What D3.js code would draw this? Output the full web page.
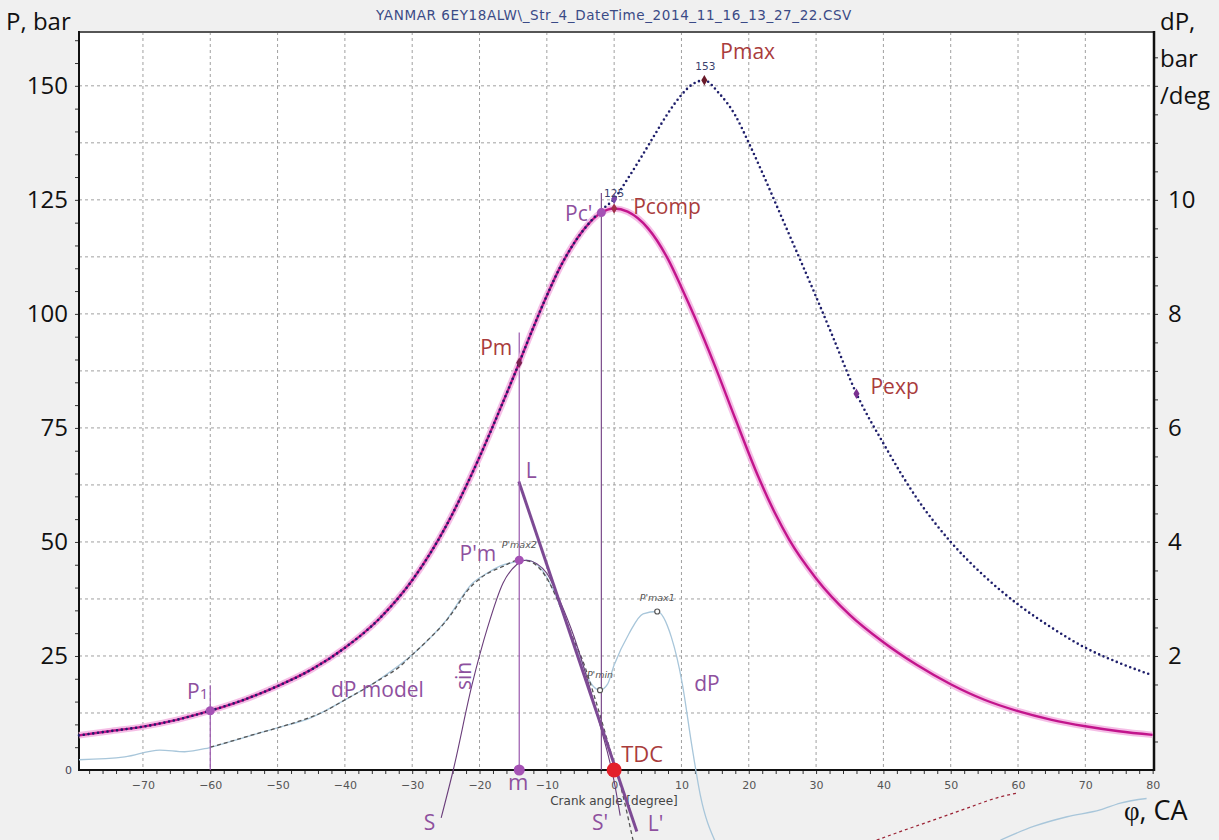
<!DOCTYPE html>
<html>
<head>
<meta charset="utf-8">
<script src="https://cdn.jsdelivr.net/npm/d3@7"></script>
<style>
  body { margin: 0; background: #f0f0f0; }
  svg { display: block; }
  .big { font-family: "Open Sans", sans-serif; }
  .small { font-family: "DejaVu Sans", Verdana, sans-serif; }
</style>
</head>
<body>
<svg id="chart" width="1219" height="840"></svg>
<script>
// ---- data (crank angle in degrees) ----
const chartTitle = 'YANMAR 6EY18ALW\\_Str_4_DateTime_2014_11_16_13_27_22.CSV';

const xTickLabels = [-70, -60, -50, -40, -30, -20, -10, 0, 10, 20, 30, 40, 50, 60, 70, 80];
const pTickLabels = [25, 50, 75, 100, 125, 150];
const dpTickLabels = [2, 4, 6, 8, 10];
const xGrid = [-70, -60, -50, -40, -30, -20, -10, 0, 10, 20, 30, 40, 50, 60, 70];
const dpGrid = [1, 2, 3, 4, 5, 6, 7, 8, 9, 10, 11, 12];

// compression (motored) pressure, bar
const pCompression = [
  [-79.5, 7.6], [-75, 8.5], [-70, 9.5], [-65, 11.0], [-60, 13.0], [-55, 15.4], [-50, 18.4],
  [-45, 22.0], [-40, 26.8], [-35, 33.0], [-30, 41.6], [-25, 53.4], [-22, 62.2], [-20, 68.6],
  [-16.5, 80.7], [-14.1, 89.3], [-13, 93.4], [-10, 104], [-8, 110.3], [-6, 115.4], [-4, 119.4],
  [-2, 122.1], [0, 123.1], [2, 122.4], [5, 118.8], [8, 112], [10, 105.8], [12, 99.2],
  [15, 88.5], [18, 77], [21.5, 64], [24, 56], [26, 50.5], [30, 42], [35, 34], [40, 28],
  [45, 23], [50, 18.8], [55, 15.4], [60, 12.9], [65, 11], [70, 9.6], [75, 8.5], [80, 7.7]
];

// measured (firing) pressure, bar
const pMeasured = [
  [-79.5, 7.6], [-75, 8.5], [-70, 9.5], [-65, 11.0], [-60, 13.0], [-55, 15.4], [-50, 18.4],
  [-45, 22.0], [-40, 26.8], [-35, 33.0], [-30, 41.6], [-25, 53.4], [-22, 62.2], [-20, 68.6],
  [-16.5, 80.7], [-14.1, 89.3], [-13, 93.4], [-10, 104], [-8, 110.3], [-6, 115.4], [-4, 119.4],
  [-2, 122.6], [0, 125.2], [2, 129.6], [4, 134.3], [6, 139.2], [8, 144], [10, 148],
  [11.5, 150.2], [13.4, 151.2], [15.5, 148.5], [18, 143.5], [20, 137.5], [22, 131],
  [24.5, 122.5], [27.3, 113], [29.7, 104.8], [32.4, 95.3], [36, 82.5], [40, 71.6], [45, 59.5],
  [50, 50], [55, 42.5], [60, 36.3], [65, 31.2], [70, 26.8], [75, 23.5], [79.9, 20.8]
];

// measured pressure derivative, bar/deg
const dpMeasured = [
  [-79.5, 0.18], [-72.7, 0.23], [-67.5, 0.35], [-63.8, 0.32], [-60.2, 0.39], [-55, 0.57],
  [-50, 0.74], [-45, 0.92], [-40, 1.23], [-35, 1.58], [-30, 2.02], [-25, 2.62], [-21, 3.28],
  [-18.9, 3.45], [-16.9, 3.58], [-14.7, 3.65], [-13, 3.68], [-11, 3.55], [-9, 3.15], [-7, 2.55],
  [-5, 1.95], [-3.6, 1.55], [-2.1, 1.40], [-1, 1.5], [0, 1.84], [2.2, 2.39], [4.3, 2.74],
  [6.4, 2.78], [8.5, 2.33], [10.1, 1.53], [11.5, 0.46], [12.8, -0.44], [15, -1.25],
  [null, null],
  [57.4, -1.23], [62.3, -0.99], [67.3, -0.82], [72.2, -0.70], [75.2, -0.58], [79.1, -0.50]
];

// model derivative, bar/deg
const dpModel = [
  [-60, 0.40], [-57, 0.50], [-53.9, 0.61], [-50, 0.74], [-46.2, 0.88], [-43, 1.03], [-40, 1.23],
  [-37, 1.43], [-34.9, 1.58], [-32, 1.80], [-30, 2.02], [-27.5, 2.30], [-25.2, 2.58],
  [-23.5, 2.85], [-22.1, 3.10], [-19.8, 3.37], [-16.5, 3.57], [-14.2, 3.68], [-12.9, 3.67],
  [-10.3, 3.42], [-8, 2.87], [-6, 2.28], [-4.8, 1.96], [-2.7, 1.20], [-0.6, 0.35], [1, -0.30],
  [2.8, -1.23]
];

// sine fit, bar/deg
const dpSine = [
  [-25.7, -0.84], [-23.9, 0], [-21.1, 1.5], [-18.8, 2.5], [-16.5, 3.28], [-14.5, 3.6],
  [-13, 3.68], [-11.5, 3.62], [-10, 3.45], [-8, 2.95], [-6, 2.35], [-4, 1.6], [-2, 0.75],
  [0, -0.2], [0.9, -0.8]
];

// tangent L - L', bar/deg
const dpTangent = [[-14.16, 5.06], [3.37, -1.08]];

// dashed tail after combustion, bar/deg
const dpTail = [[39, -1.23], [42.5, -1.08], [47.4, -0.88], [52.4, -0.67], [57.4, -0.47], [60.1, -0.40]];

// vertical markers [deg, top value (bar)]
const verticals = [
  { deg: -60, top: 18.6 },
  { deg: -14.1, top: 95.9 },
  { deg: -1.9, top: 126.5 }
];

// points
const points = [
  { id: 'P1', deg: -60, v: 13.0, axis: 'P', kind: 'dot' },
  { id: 'Pm', deg: -14.1, v: 89.3, axis: 'P', kind: 'diamond', color: '#7a2050' },
  { id: 'Pc', deg: -1.9, v: 122.2, axis: 'P', kind: 'dot' },
  { id: 'Pcomp', deg: 0, v: 123.1, axis: 'P', kind: 'diamond', color: '#a0304a' },
  { id: 'P125', deg: 0, v: 125.2, axis: 'P', kind: 'diamond', color: '#7a48a8' },
  { id: 'Pmax', deg: 13.4, v: 151.2, axis: 'P', kind: 'diamond', color: '#6a1a2a' },
  { id: 'Pexp', deg: 36, v: 82.5, axis: 'P', kind: 'diamond', color: '#7a3090' },
  { id: 'Pdm', deg: -14.1, v: 3.68, axis: 'dP', kind: 'dot' },
  { id: 'Pmax1', deg: 6.4, v: 2.78, axis: 'dP', kind: 'open' },
  { id: 'Pmin', deg: -2.1, v: 1.40, axis: 'dP', kind: 'open' },
  { id: 'm', deg: -14.1, v: 0, axis: 'dP', kind: 'big' },
  { id: 'TDC', deg: 0, v: 0, axis: 'dP', kind: 'tdc' }
];

// ---- layout ----
const W = 1219, H = 840;
const plotL = 79, plotR = 1154, plotT = 32, plotB = 770;
const red = '#a93c3c', purple = '#8e509e';

const svg = d3.select('#chart');

const x = d3.scaleLinear().domain([-79.5, 80.2]).range([plotL, plotR]);
const yP = d3.scaleLinear().domain([0, 161.8]).range([plotB, plotT]);
const yD = d3.scaleLinear().domain([0, 161.8 / 12.5]).range([plotB, plotT]);

svg.append('rect').attr('width', W).attr('height', H).attr('fill', '#f0f0f0');
svg.append('rect')
  .attr('x', plotL).attr('y', plotT)
  .attr('width', plotR - plotL).attr('height', plotB - plotT)
  .attr('fill', '#fff');

// grid
const grid = svg.append('g').attr('stroke', '#a0a0a0').attr('stroke-width', 1).attr('stroke-dasharray', '3,3');
grid.selectAll('.gx').data(xGrid).join('line')
  .attr('x1', d => x(d)).attr('x2', d => x(d)).attr('y1', plotT).attr('y2', plotB);
grid.selectAll('.gy').data(dpGrid).join('line')
  .attr('x1', plotL).attr('x2', plotR).attr('y1', d => yD(d)).attr('y2', d => yD(d));

// title
svg.append('text').attr('class', 'small')
  .attr('x', 614).attr('y', 20).attr('text-anchor', 'middle')
  .attr('font-size', 13.5).attr('letter-spacing', 0.6).attr('fill', '#3a4a86')
  .text(chartTitle);

// axes
const axX = svg.append('g').attr('transform', `translate(0,${plotB})`)
  .call(d3.axisBottom(x).tickValues(xTickLabels).tickSize(0).tickPadding(11));
const axXMinor = svg.append('g').attr('transform', `translate(0,${plotB})`)
  .call(d3.axisBottom(x).tickValues(d3.range(-78, 81, 2)).tickSize(4).tickFormat(''));
const axL = svg.append('g').attr('transform', `translate(${plotL},0)`)
  .call(d3.axisLeft(yP).tickValues(pTickLabels).tickSize(0).tickPadding(11));
const axLMinor = svg.append('g').attr('transform', `translate(${plotL},0)`)
  .call(d3.axisLeft(yP).tickValues(d3.range(5, 161, 5)).tickSize(4).tickFormat(''));
const axR = svg.append('g').attr('transform', `translate(${plotR},0)`)
  .call(d3.axisRight(yD).tickValues(dpTickLabels).tickSize(0).tickPadding(14));
const axRMinor = svg.append('g').attr('transform', `translate(${plotR},0)`)
  .call(d3.axisRight(yD).tickValues(d3.range(0.5, 12.9, 0.5)).tickSize(4).tickFormat(''));

[axX, axXMinor, axL, axLMinor, axR, axRMinor].forEach(g => g.select('.domain').remove());
[axXMinor, axLMinor, axRMinor].forEach(g => g.selectAll('line').attr('stroke', '#333'));
axX.selectAll('text').attr('class', 'small').attr('font-size', 11).attr('fill', '#555');
axL.selectAll('text').attr('class', 'big').attr('font-size', 24).attr('fill', '#111');
axR.selectAll('text').attr('class', 'big').attr('font-size', 24).attr('fill', '#111');

// frame
svg.append('line').attr('x1', plotL).attr('x2', plotR).attr('y1', plotT).attr('y2', plotT)
  .attr('stroke', '#555').attr('stroke-width', 2);
svg.append('line').attr('x1', plotL).attr('x2', plotL).attr('y1', plotT - 1).attr('y2', plotB + 1)
  .attr('stroke', '#111').attr('stroke-width', 2);
svg.append('line').attr('x1', plotR).attr('x2', plotR).attr('y1', plotT - 1).attr('y2', plotB + 1)
  .attr('stroke', '#111').attr('stroke-width', 2.5);
svg.append('line').attr('x1', plotL).attr('x2', plotR).attr('y1', plotB).attr('y2', plotB)
  .attr('stroke', '#111').attr('stroke-width', 2);

svg.append('text').attr('class', 'small').attr('x', 72).attr('y', plotB + 4)
  .attr('text-anchor', 'end').attr('font-size', 11).attr('fill', '#445').text('0');

svg.append('text').attr('class', 'small').attr('x', 614).attr('y', 805)
  .attr('text-anchor', 'middle').attr('font-size', 12).attr('fill', '#444')
  .text('Crank angle [degree]');

// axis titles
svg.append('text').attr('class', 'big').attr('x', 6).attr('y', 30)
  .attr('font-size', 24).attr('fill', '#111').text('P, bar');
const rt = svg.append('text').attr('class', 'big').attr('font-size', 24).attr('fill', '#111');
['dP,', 'bar', '/deg'].forEach((s, i) => rt.append('tspan').attr('x', 1160).attr('y', 30 + i * 37).text(s));
const phi = svg.append('text').attr('x', 1124).attr('y', 820).attr('font-size', 27).attr('fill', '#111');
phi.append('tspan').attr('font-family', '"Liberation Serif", serif').text('φ');
phi.append('tspan').attr('class', 'big').text(', CA');

// lines
const lineD = d3.line().defined(d => d[0] !== null).x(d => x(d[0])).y(d => yD(d[1])).curve(d3.curveMonotoneX);
const lineP = d3.line().x(d => x(d[0])).y(d => yP(d[1])).curve(d3.curveMonotoneX);

svg.append('path').datum(dpMeasured).attr('d', lineD)
  .attr('fill', 'none').attr('stroke', '#a8c6da').attr('stroke-width', 1.3);
svg.append('path').datum(dpTail).attr('d', lineD)
  .attr('fill', 'none').attr('stroke', '#9b2335').attr('stroke-width', 1.2).attr('stroke-dasharray', '3,3');
svg.append('path').datum(dpModel).attr('d', lineD)
  .attr('fill', 'none').attr('stroke', '#555').attr('stroke-width', 1.3).attr('stroke-dasharray', '4,3');
svg.append('path').datum(dpSine).attr('d', lineD)
  .attr('fill', 'none').attr('stroke', '#6a3d7a').attr('stroke-width', 1.1);
svg.append('path').datum(dpTangent).attr('d', d3.line().x(d => x(d[0])).y(d => yD(d[1])))
  .attr('fill', 'none').attr('stroke', '#7d4a94').attr('stroke-width', 3);

svg.selectAll('.vline').data(verticals).join('line')
  .attr('x1', d => x(d.deg)).attr('x2', d => x(d.deg))
  .attr('y1', d => yP(d.top)).attr('y2', plotB)
  .attr('stroke', (d, i) => i === 2 ? '#7a4a8a' : '#9a58ad').attr('stroke-width', 1.2);

svg.append('path').datum(pCompression).attr('d', lineP)
  .attr('fill', 'none').attr('stroke', '#f2aee0').attr('stroke-width', 6.5).attr('opacity', 0.8);
svg.append('path').datum(pCompression).attr('d', lineP)
  .attr('fill', 'none').attr('stroke', '#c2158c').attr('stroke-width', 2.4);
svg.append('path').datum(pMeasured).attr('d', lineP)
  .attr('fill', 'none').attr('stroke', '#1f1f6b').attr('stroke-width', 2.6)
  .attr('stroke-linecap', 'round').attr('stroke-dasharray', '0,4.8');

// points
const px = d => x(d.deg);
const py = d => d.axis === 'P' ? yP(d.v) : yD(d.v);
points.forEach(d => {
  if (d.kind === 'diamond') {
    svg.append('path').attr('d', d3.symbol(d3.symbolDiamond, 32)())
      .attr('transform', `translate(${px(d)},${py(d)})`).attr('fill', d.color);
  } else if (d.kind === 'open') {
    svg.append('circle').attr('cx', px(d)).attr('cy', py(d)).attr('r', 2.5)
      .attr('fill', '#fff').attr('stroke', '#555').attr('stroke-width', 1.2);
  } else {
    const r = d.kind === 'tdc' ? 7.5 : d.kind === 'big' ? 5.5 : 4.5;
    const c = d.kind === 'tdc' ? '#e3202b' : '#a552b5';
    svg.append('circle').attr('cx', px(d)).attr('cy', py(d)).attr('r', r).attr('fill', c);
  }
});

// annotations: anchored to a point, offsets in px
const byId = Object.fromEntries(points.map(d => [d.id, d]));
const anchorSine0 = { deg: dpSine[0][0], v: dpSine[0][1], axis: 'dP' };
const anchorSine1 = { deg: dpSine[dpSine.length - 1][0], v: dpSine[dpSine.length - 1][1], axis: 'dP' };
const anchorL = { deg: dpTangent[0][0], v: dpTangent[0][1], axis: 'dP' };
const anchorL2 = { deg: dpTangent[1][0], v: dpTangent[1][1], axis: 'dP' };
const anchorModel = { deg: -40, v: 1.23, axis: 'dP' };
const anchorDp = { deg: 10.1, v: 1.53, axis: 'dP' };

const notes = [
  { t: 'Pmax', a: byId.Pmax, dx: 16, dy: -21, c: red, s: 21 },
  { t: 'Pcomp', a: byId.Pcomp, dx: 19, dy: 5, c: red, s: 21 },
  { t: "Pc'", a: byId.Pc, dx: -9, dy: 8, c: purple, s: 21, anchor: 'end' },
  { t: 'Pm', a: byId.Pm, dx: -7, dy: -8, c: red, s: 21, anchor: 'end' },
  { t: 'Pexp', a: byId.Pexp, dx: 14, dy: 0, c: red, s: 21 },
  { t: 'L', a: anchorL, dx: 7, dy: -4, c: purple, s: 21 },
  { t: "P'm", a: byId.Pdm, dx: -23, dy: 1, c: purple, s: 21, anchor: 'end' },
  { t: 'dP model', a: anchorModel, dx: -14, dy: -3, c: purple, s: 21 },
  { t: 'dP', a: anchorDp, dx: 12, dy: 8, c: purple, s: 21 },
  { t: 'TDC', a: byId.TDC, dx: 7, dy: -8, c: red, s: 22 },
  { t: 'm', a: byId.m, dx: -1, dy: 20, c: purple, s: 22, anchor: 'middle' },
  { t: 'S', a: anchorSine0, dx: -6, dy: 12, c: purple, s: 21, anchor: 'end' },
  { t: "S'", a: anchorSine1, dx: -12, dy: 14, c: purple, s: 21, anchor: 'end' },
  { t: "L'", a: anchorL2, dx: 11, dy: -1, c: purple, s: 21 }
];
notes.forEach(n => {
  svg.append('text').attr('class', 'big')
    .attr('x', px(n.a) + n.dx).attr('y', py(n.a) + n.dy)
    .attr('text-anchor', n.anchor || 'start')
    .attr('font-size', n.s).attr('fill', n.c).text(n.t);
});

// P1 with small index
const p1 = svg.append('text').attr('class', 'big')
  .attr('x', px(byId.P1) - 2).attr('y', py(byId.P1) - 12)
  .attr('text-anchor', 'end').attr('font-size', 21).attr('fill', purple);
p1.append('tspan').text('P');
p1.append('tspan').attr('font-size', 15).text('1');

// sin, rotated
svg.append('text').attr('class', 'big')
  .attr('transform', `translate(${x(-22.15) + 6},${yD(1.65)}) rotate(-90)`)
  .attr('text-anchor', 'middle').attr('font-size', 21).attr('fill', purple).text('sin');

// small value labels
const smallNotes = [
  { t: '153', a: byId.Pmax, dx: 1, dy: -10, c: '#3a3f6e', it: false },
  { t: '125', a: byId.P125, dx: 0, dy: -2, c: '#3a3f6e', it: false },
  { t: "P'max2", a: { deg: -12.9, v: 3.67, axis: 'dP' }, dx: -8, dy: -13, c: '#555', it: true },
  { t: "P'max1", a: byId.Pmax1, dx: 0, dy: -10, c: '#555', it: true },
  { t: "P'min", a: byId.Pmin, dx: 0, dy: -12, c: '#555', it: true }
];
smallNotes.forEach(n => {
  svg.append('text').attr('class', 'small')
    .attr('x', px(n.a) + n.dx).attr('y', py(n.a) + n.dy)
    .attr('text-anchor', 'middle').attr('font-size', n.it ? 9.5 : 10.5)
    .attr('font-style', n.it ? 'italic' : 'normal').attr('fill', n.c).text(n.t);
});
</script>
</body>
</html>
